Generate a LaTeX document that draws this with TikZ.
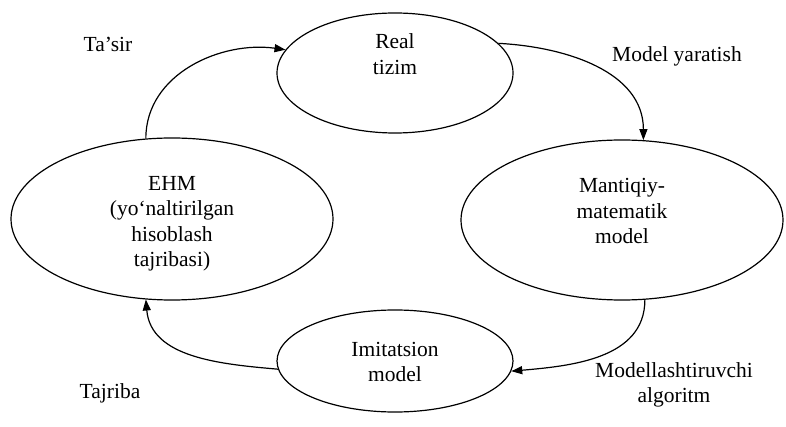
\documentclass[tikz,border=0pt]{standalone}
\usepackage{fontspec}
\setmainfont{Liberation Serif}
\usetikzlibrary{shapes.geometric,arrows.meta}
\begin{document}
\begin{tikzpicture}[x=1pt,y=-1pt,
  ell/.style={draw,ellipse,line width=1.2pt,inner sep=0pt},
  txt/.style={align=center,font=\fontsize{21.5}{25.5}\selectfont,inner sep=0pt},
  conn/.style={line width=1.2pt,-{Triangle[length=11pt,width=8pt]}}]
\useasboundingbox (0,0) rectangle (786,427);
\node[ell,minimum width=236pt,minimum height=120pt] (real) at (395,73) {};
\node[ell,minimum width=322pt,minimum height=162pt] (ehm) at (172,219) {};
\node[ell,minimum width=322pt,minimum height=160pt] (mm) at (622,220) {};
\node[ell,minimum width=236pt,minimum height=102pt] (imit) at (395,361) {};
\node[txt] (realt) at (395,54) {Real\\tizim};
\node[txt] (ehmt) at (172,224) {EHM\\(yo‘naltirilgan\\hisoblash\\tajribasi)};
\node[txt] (mmt) at (622,211) {Mantiqiy-\\matematik\\model};
\node[txt] (imitt) at (395,362) {Imitatsion\\model};
\node[txt] (l1) at (108,44) {Ta’sir};
\node[txt] (l2) at (677,56) {Model yaratish};
\node[txt] (l3) at (674,385) {Modellashtiruvchi\\algoritm};
\node[txt] (l4) at (110,393) {Tajriba};
\draw[conn] (ehm.108) to[out=90,in=172] (real.168);
\draw[conn] (real.16) to[out=-3,in=90] (mm.75);
\draw[conn] (mm.-74) to[out=-90,in=5] (imit.-5);
\draw[conn] (imit.184) to[out=175,in=-85] (ehm.252);
\end{tikzpicture}
\end{document}
